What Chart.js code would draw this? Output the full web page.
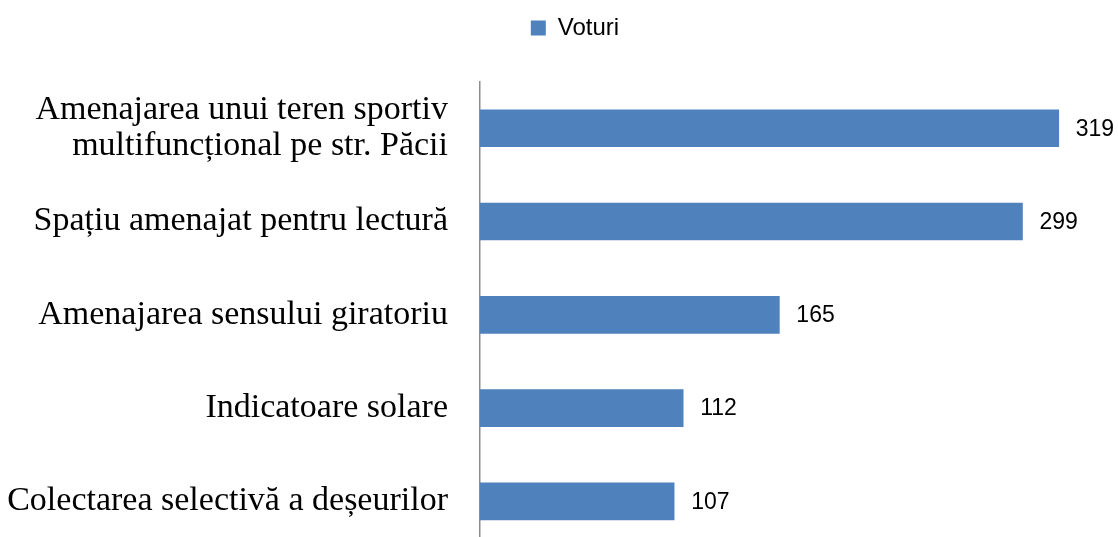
<!DOCTYPE html>
<html>
<head>
<meta charset="utf-8">
<script src="https://cdn.jsdelivr.net/npm/chart.js@4"></script>
<style>
  html, body { margin: 0; overflow: hidden; background: #fff; }
  canvas { display: block; }
</style>
</head>
<body>
<canvas id="voturi_chart_area" width="1118" height="560"></canvas>
<script>
const categories = [
  ["Amenajarea unui teren sportiv", "multifuncțional pe str. Păcii"],
  "Spațiu amenajat pentru lectură",
  "Amenajarea sensului giratoriu",
  "Indicatoare solare",
  "Colectarea selectivă a deșeurilor",
];
const voturi = [319, 299, 165, 112, 107];
const series_label = "Voturi";

Chart.defaults.color = "#000";

// value labels right of each bar
const value_labels = {
  id: "value_labels",
  afterDatasetsDraw(chart) {
    const ctx = chart.ctx;
    ctx.save();
    ctx.font = "23px 'Liberation Sans'";
    ctx.fillStyle = "#000";
    ctx.textAlign = "left";
    ctx.textBaseline = "middle";
    chart.getDatasetMeta(0).data.forEach((bar, i) => {
      ctx.fillText(String(voturi[i]), bar.x + 17, bar.y + 1);
    });
    ctx.restore();
  },
};

// fixed legend band height, legend nudged right
const legend_tweak = {
  id: "legend_tweak",
  beforeInit(chart) {
    const fit = chart.legend.fit;
    chart.legend.fit = function () {
      fit.bind(chart.legend)();
      this.height = 75.6;
    };
  },
  afterLayout(chart) {
    chart.legend.left += 35;
  },
};

const voturi_chart_area = document.getElementById("voturi_chart_area").getContext("2d");
const voturi_chart = new Chart(voturi_chart_area, {
  type: "bar",
  data: {
    labels: categories,
    datasets: [
      {
        label: series_label,
        backgroundColor: "#4F81BD",
        data: voturi,
        barThickness: 37,
      },
    ],
  },
  options: {
    indexAxis: "y",
    responsive: false,
    animation: false,
    layout: { padding: { top: 6, left: 0, right: 3, bottom: 12 } },
    plugins: {
      legend: {
        position: "top",
        labels: {
          boxWidth: 15,
          boxHeight: 15,
          font: { family: "Liberation Sans", size: 24 },
          color: "#000",
        },
      },
      tooltip: { enabled: false },
    },
    scales: {
      x: {
        display: false,
        min: 0,
        max: 350,
      },
      y: {
        afterFit(scale) {
          scale.width = 480;
          scale.paddingTop = 0;
          scale.paddingBottom = 0;
        },
        grid: { display: false, drawTicks: false },
        border: { display: true, color: "#8c8c8c", width: 1.5 },
        ticks: {
          autoSkip: false,
          padding: 32,
          color: "#000",
          font: { family: "Liberation Serif", size: 34, lineHeight: 1.06 },
        },
      },
    },
  },
  plugins: [value_labels, legend_tweak],
});
</script>
</body>
</html>
